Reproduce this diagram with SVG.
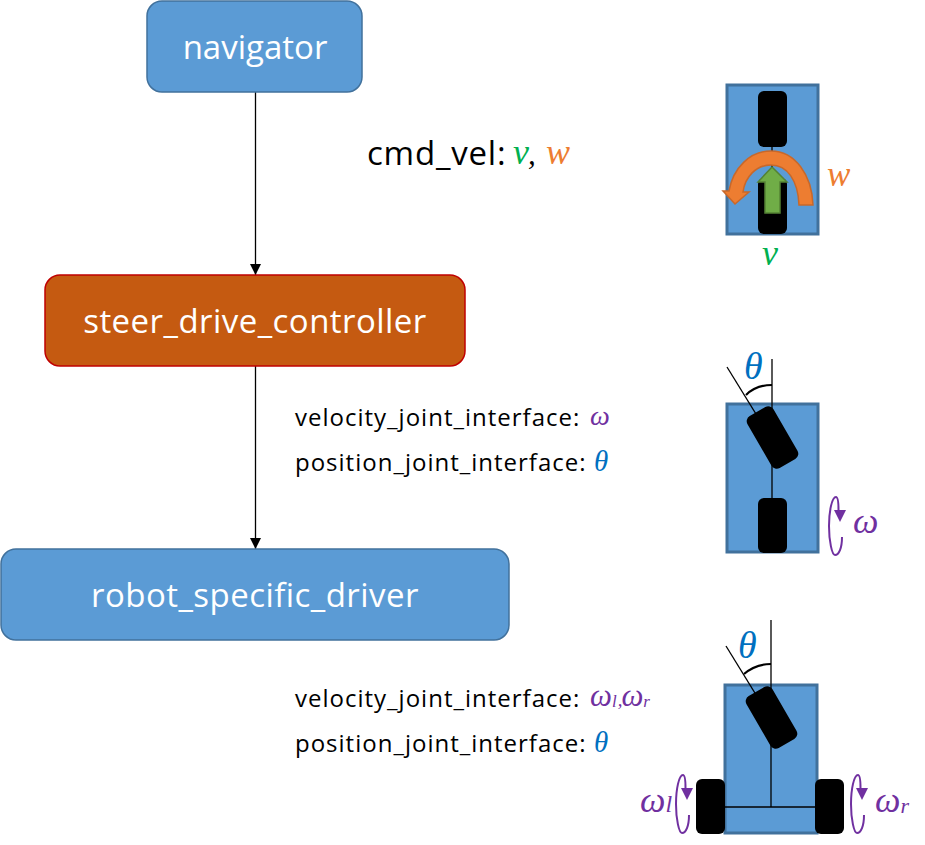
<svg xmlns="http://www.w3.org/2000/svg" width="925" height="845" viewBox="0 0 925 845">
<style>
text{font-family:"Open Sans","Noto Sans","Liberation Sans",sans-serif;}
.n{fill:#5b9bd5;stroke:#41719c;stroke-width:1.5}
.o{fill:#c55a11;stroke:#c00000;stroke-width:1.5}
.t{fill:#fff;font-size:33px;text-anchor:middle;letter-spacing:.45px}
.l{fill:#000;font-size:24px;letter-spacing:1px}
.m{font-family:"Liberation Serif","DejaVu Serif",serif;font-style:italic}
.pu{fill:#7030a0}.bl{fill:#0070c0}.gr{fill:#00b050}.or{fill:#ed7d31}
.b{fill:#5b9bd5;stroke:#41719c;stroke-width:3}
.w{fill:#000}
.ln{stroke:#000;stroke-width:1.3;fill:none}
.arc{stroke:#000;stroke-width:2.2;fill:none}
.rot{stroke:#7030a0;stroke-width:2;fill:none}
</style>
<defs>
<marker id="ah" markerWidth="12" markerHeight="12" refX="11" refY="5.500" orient="auto" markerUnits="userSpaceOnUse"><path d="M0 0L11 5.500L0 11z" fill="#000"/></marker>
<g id="rotG"><path class="rot" d="M2.500 -16C2.500 -24 2 -29 0 -29C-4 -29 -7 -15 -7 0C-7 15 -4 29 -1 29C3 29 6 22 6 11"/><path d="M-2 -16H10L4 -4z" fill="#7030a0"/></g>
</defs>

<g id="connectors">
<line class="ln" x1="255.500" y1="92" x2="255.500" y2="275" marker-end="url(#ah)"/>
<line class="ln" x1="255.500" y1="366" x2="255.500" y2="549" marker-end="url(#ah)"/>
</g>

<g id="navigator"><rect class="n" x="147" y="1" width="215" height="91" rx="15"/><text class="t" x="255" y="59" style="letter-spacing:0">navigator</text></g>
<g id="steer_drive_controller"><rect class="o" x="45" y="275" width="420" height="91" rx="15"/><text class="t" x="255" y="333">steer_drive_controller</text></g>
<g id="robot_specific_driver"><rect class="n" x="1" y="549" width="508" height="91" rx="15"/><text class="t" x="255" y="607">robot_specific_driver</text></g>

<g id="label-cmd"><text x="367" y="165" style="font-size:33px;letter-spacing:.8px">cmd_vel:</text><text class="m gr" x="513" y="164" style="font-size:36px">v</text><text class="m" x="528" y="164" style="font-size:31px">,</text><text class="m or" x="546" y="164" style="font-size:36px">w</text></g>
<g id="label-steer"><text class="l" x="295" y="426">velocity_joint_interface:</text><text class="m pu" x="590" y="425" style="font-size:28px">ω</text><text class="l" x="295" y="471">position_joint_interface:</text><text class="m bl" x="594" y="471" style="font-size:29px">θ</text></g>
<g id="label-driver"><text class="l" x="295" y="707">velocity_joint_interface:</text><text class="m pu" x="590" y="706" style="font-size:31px">ω<tspan font-size="17" dy="1">l</tspan><tspan font-size="19" dy="-1" dx="1">,</tspan><tspan dx="-1">ω</tspan><tspan font-size="17" dy="1">r</tspan></text><text class="l" x="295" y="752">position_joint_interface:</text><text class="m bl" x="594" y="752" style="font-size:29px">θ</text></g>

<g id="robot-top">
<rect class="b" x="727" y="85" width="91" height="149"/>
<line class="ln" x1="772" y1="147" x2="772" y2="180"/>
<rect class="w" x="758" y="91" width="29" height="56" rx="6"/>
<rect class="w" x="758" y="178" width="29" height="56" rx="6"/>
<path d="M813 205H799C798 180 787 165 771 165C756 165 745 177 743 192H749L735 204L723 191H729C733 168 750 151 771 151C795 151 812 175 813 205Z" fill="#ed7d31" stroke="#c8682a" stroke-width="1.500"/>
<path d="M772 167L787 182H780V213H765V182H758Z" fill="#70ad47" stroke="#548235" stroke-width="1.500"/>
<text class="m or" x="827" y="186" style="font-size:35px">w</text>
<text class="m gr" x="762" y="265" style="font-size:36px">v</text>
</g>

<g id="robot-steer">
<rect class="b" x="727" y="404" width="91" height="148"/>
<line class="ln" x1="772" y1="359" x2="772" y2="500"/>
<line class="ln" x1="727" y1="367" x2="772" y2="440"/>
<rect class="w" x="757.500" y="407.500" width="30" height="60" rx="6" transform="rotate(-30 772.500 437.500)"/>
<rect class="w" x="758" y="498" width="29" height="55" rx="6"/>
<path class="arc" d="M746 395C753 388 762 385 772 385"/>
<text class="m bl" x="744" y="379" style="font-size:38px">θ</text>
<use href="#rotG" transform="translate(836 526)"/>
<text class="m pu" x="853" y="533" style="font-size:36px">ω</text>
</g>

<g id="robot-ackermann">
<rect class="b" x="725" y="685" width="92" height="148"/>
<line class="ln" x1="771" y1="620" x2="771" y2="807"/>
<line class="ln" x1="726" y1="646" x2="771" y2="719"/>
<line class="ln" x1="725" y1="807" x2="817" y2="807"/>
<rect class="w" x="756.500" y="687.500" width="30" height="60" rx="6" transform="rotate(-30 771.500 717.500)"/>
<rect class="w" x="696" y="779" width="29" height="55" rx="6"/>
<rect class="w" x="815" y="779" width="29" height="55" rx="6"/>
<path class="arc" d="M744 674C752 667 761 664 771 664"/>
<text class="m bl" x="738" y="658" style="font-size:38px">θ</text>
<use href="#rotG" transform="translate(683 804)"/>
<use href="#rotG" transform="translate(858 804)"/>
<text class="m pu" x="640" y="812" style="font-size:36px">ω<tspan font-size="24" dy="0">l</tspan></text>
<text class="m pu" x="875" y="812" style="font-size:36px">ω<tspan font-size="22" dy="1">r</tspan></text>
</g>
</svg>
